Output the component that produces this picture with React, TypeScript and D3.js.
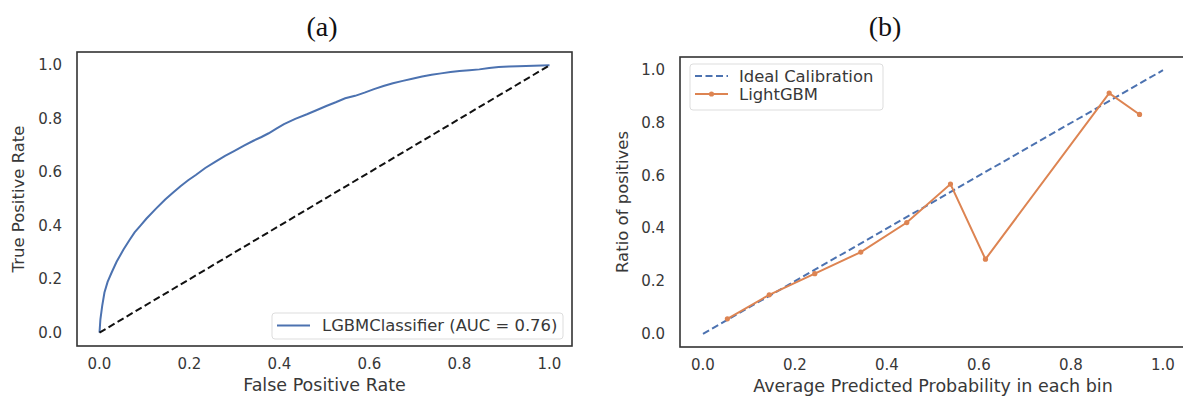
import * as d3 from 'd3';

// ROC curve (a)
const fpr = [0, 0.002, 0.006, 0.011, 0.018, 0.027, 0.038, 0.053, 0.066, 0.078, 0.092, 0.104, 0.125, 0.146, 0.163, 0.18, 0.197, 0.214, 0.235, 0.257, 0.279, 0.3, 0.321, 0.342, 0.36, 0.376, 0.393, 0.41, 0.435, 0.461, 0.482, 0.504, 0.525, 0.546, 0.568, 0.589, 0.61, 0.631, 0.652, 0.674, 0.695, 0.717, 0.738, 0.759, 0.78, 0.8, 0.822, 0.844, 0.866, 0.887, 0.91, 0.93, 0.965, 1];
const tpr = [0, 0.05, 0.1, 0.15, 0.19, 0.225, 0.265, 0.31, 0.345, 0.375, 0.402, 0.426, 0.463, 0.498, 0.523, 0.548, 0.57, 0.59, 0.616, 0.639, 0.661, 0.68, 0.7, 0.718, 0.732, 0.746, 0.763, 0.78, 0.8, 0.817, 0.832, 0.848, 0.862, 0.877, 0.886, 0.898, 0.911, 0.923, 0.933, 0.942, 0.95, 0.958, 0.965, 0.97, 0.975, 0.979, 0.982, 0.985, 0.99, 0.994, 0.996, 0.997, 0.999, 1];

// calibration curve (b)
const binPred = [0.053, 0.144, 0.243, 0.343, 0.443, 0.538, 0.614, 0.883, 0.949];
const binTrue = [0.057, 0.148, 0.228, 0.31, 0.422, 0.568, 0.283, 0.913, 0.832];

const ticks = [0, 0.2, 0.4, 0.6, 0.8, 1.0];

const BLUE = '#4c72b0';
const ORANGE = '#dd8452';
const TXT = '#383838';
const FONT = '"DejaVu Sans", sans-serif';

function Frame({ x, y, xl, yl, xt, ytx }) {
  const [x0, x1] = x.range();
  const [y0, y1] = y.range();
  return (
    <g fontFamily={FONT} fill={TXT}>
      {ticks.map(t => (
        <text key={'x' + t} x={x(t)} y={xt} fontSize={15} textAnchor="middle">{t.toFixed(1)}</text>
      ))}
      {ticks.map(t => (
        <text key={'y' + t} x={x0 - 15} y={y(t) + 5} fontSize={15} textAnchor="end">{t.toFixed(1)}</text>
      ))}
      <text x={(x0 + x1) / 2} y={xt + 22} fontSize={17.5} textAnchor="middle">{xl}</text>
      <text transform={`translate(${ytx},${(y0 + y1) / 2}) rotate(-90)`} fontSize={16.5} textAnchor="middle" dy="0.35em">{yl}</text>
      <rect x={x0} y={y1} width={x1 - x0} height={y0 - y1} fill="none" stroke="#333" strokeWidth={1.6} />
    </g>
  );
}

export default function App() {
  const xa = d3.scaleLinear().domain([-0.05, 1.05]).range([77, 572]);
  const ya = d3.scaleLinear().domain([-0.05, 1.05]).range([346, 52]);
  const xb = d3.scaleLinear().domain([-0.05, 1.05]).range([680, 1186]);
  const yb = d3.scaleLinear().domain([-0.05, 1.05]).range([347, 57]);

  const roc = d3.line<number>().x((d, i) => xa(fpr[i])).y(d => ya(d))(tpr);
  const diagA = d3.line<number>().x(d => xa(d)).y(d => ya(d))([0, 1]);
  const diagB = d3.line<number>().x(d => xb(d)).y(d => yb(d))([0, 1]);
  const cal = d3.line<number>().x((d, i) => xb(binPred[i])).y(d => yb(d))(binTrue);

  return (
    <svg width={1183} height={399} style={{ position: 'absolute', left: 0, top: 0, background: '#fff' }}>
      <text x={322} y={36} fontFamily='"Liberation Serif", serif' fontSize={28} textAnchor="middle" fill="#111">(a)</text>
      <text x={885} y={36} fontFamily='"Liberation Serif", serif' fontSize={28} textAnchor="middle" fill="#111">(b)</text>

      {/* panel a */}
      <path d={roc} fill="none" stroke={BLUE} strokeWidth={2} />
      <path d={diagA} fill="none" stroke="#111" strokeWidth={2} strokeDasharray="7,3.5" />
      <g fontFamily={FONT}>
        <rect x={272} y={313} width={291} height={26} rx={3} fill="#fff" stroke="#ddd" />
        <line x1={277} x2={310} y1={325.5} y2={325.5} stroke={BLUE} strokeWidth={2} />
        <text x={322} y={331} fontSize={16.4} fill={TXT}>LGBMClassifier (AUC = 0.76)</text>
      </g>
      <Frame x={xa} y={ya} xl="False Positive Rate" yl="True Positive Rate" xt={369} ytx={18} />

      {/* panel b */}
      <path d={diagB} fill="none" stroke={BLUE} strokeWidth={2} strokeDasharray="7,3.5" />
      <path d={cal} fill="none" stroke={ORANGE} strokeWidth={2} />
      {binPred.map((p, i) => (
        <circle key={i} cx={xb(p)} cy={yb(binTrue[i])} r={2.6} fill={ORANGE} />
      ))}
      <g fontFamily={FONT}>
        <rect x={690} y={64} width={193} height={46} rx={3} fill="#fff" stroke="#ddd" />
        <line x1={695} x2={728} y1={76} y2={76} stroke={BLUE} strokeWidth={2} strokeDasharray="7,3.5" />
        <line x1={695} x2={728} y1={94} y2={94} stroke={ORANGE} strokeWidth={2} />
        <circle cx={711.5} cy={94} r={2.6} fill={ORANGE} />
        <text x={739} y={81.5} fontSize={16.4} fill={TXT}>Ideal Calibration</text>
        <text x={739} y={99.5} fontSize={16.4} fill={TXT}>LightGBM</text>
      </g>
      <Frame x={xb} y={yb} xl="Average Predicted Probability in each bin" yl="Ratio of positives" xt={370} ytx={622} />
    </svg>
  );
}
